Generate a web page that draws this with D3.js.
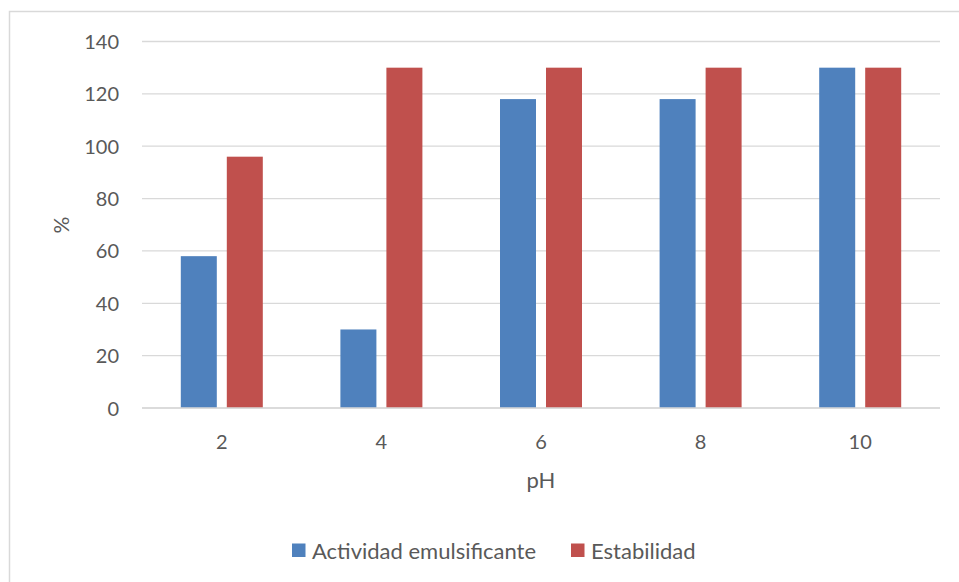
<!DOCTYPE html>
<html>
<head>
<meta charset="utf-8">
<script src="https://cdn.jsdelivr.net/npm/d3@7"></script>
<style>
  html, body { margin: 0; padding: 0; background: #fff; }
  svg { display: block; }
  text { font-family: Lato, "Open Sans", sans-serif; fill: #595959; }
</style>
</head>
<body>
<svg id="chart" width="959" height="582"></svg>
<script>
// pH levels on the x axis
const categories = ["2", "4", "6", "8", "10"];
// Series values (%)
const actividad = [58, 30, 118, 118, 130];
const estabilidad = [96, 130, 130, 130, 130];
const seriesNames = ["Actividad emulsificante", "Estabilidad"];
const seriesColors = ["#4f81bd", "#c0504d"];
const yTicks = [0, 20, 40, 60, 80, 100, 120, 140];

const series = [actividad, estabilidad];

const svg = d3.select("#chart");
const W = 959, H = 582;

// outer chart frame (only left and top edges fall inside the view)
svg.append("rect")
  .attr("x", 9.5).attr("y", 11.5)
  .attr("width", W + 10).attr("height", H + 10)
  .attr("fill", "#fff").attr("stroke", "#d9d9d9").attr("stroke-width", 1.5);

const plot = { left: 142, right: 940, top: 41.5, bottom: 408 };

const x = d3.scaleBand()
  .domain(categories)
  .range([plot.left, plot.right])
  .paddingInner(0).paddingOuter(0);

const y = d3.scaleLinear()
  .domain([0, 140])
  .range([plot.bottom, plot.top]);

// gridlines
svg.append("g")
  .selectAll("line")
  .data(yTicks)
  .join("line")
  .attr("x1", plot.left).attr("x2", plot.right)
  .attr("y1", d => y(d)).attr("y2", d => y(d))
  .attr("stroke", "#d9d9d9").attr("stroke-width", 1.3);

// y axis labels
const yAxis = d3.axisLeft(y).tickValues(yTicks).tickSize(0).tickPadding(0);
const gy = svg.append("g")
  .attr("transform", `translate(${plot.left - 23},0)`)
  .call(yAxis);
gy.select(".domain").remove();
gy.selectAll("text")
  .attr("font-size", 20)
  .attr("dy", "0.35em")
  .style("font-family", "Lato, 'Open Sans', sans-serif")
  .attr("fill", "#595959");

// bars
const barW = 36, barGap = 10;
const groupW = barW * 2 + barGap;
series.forEach((vals, si) => {
  svg.append("g")
    .selectAll("rect")
    .data(vals.map((v, i) => ({ v, c: categories[i] })))
    .join("rect")
    .attr("x", d => x(d.c) + (x.bandwidth() - groupW) / 2 + si * (barW + barGap))
    .attr("width", barW)
    .attr("y", d => y(d.v))
    .attr("height", d => y(0) - y(d.v))
    .attr("fill", seriesColors[si]);
});

// x axis line
svg.append("line")
  .attr("x1", plot.left).attr("x2", plot.right)
  .attr("y1", y(0)).attr("y2", y(0))
  .attr("stroke", "#d9d9d9").attr("stroke-width", 1.3);

// x axis labels
const xAxis = d3.axisBottom(x).tickSize(0).tickPadding(0);
const gx = svg.append("g")
  .attr("transform", `translate(0,${plot.bottom + 34})`)
  .call(xAxis);
gx.select(".domain").remove();
gx.selectAll("text")
  .attr("font-size", 20)
  .attr("dy", "0.35em")
  .style("font-family", "Lato, 'Open Sans', sans-serif")
  .attr("fill", "#595959");

// axis titles
svg.append("text")
  .attr("x", (plot.left + plot.right) / 2).attr("y", 480)
  .attr("dy", "0.35em")
  .attr("text-anchor", "middle")
  .attr("font-size", 22)
  .text("pH");

svg.append("text")
  .attr("transform", "translate(62,225) rotate(-90)")
  .attr("dy", "0.35em")
  .attr("text-anchor", "middle")
  .attr("font-size", 21)
  .text("%");

// legend
const legendItems = [
  { name: seriesNames[0], color: seriesColors[0], x: 292 },
  { name: seriesNames[1], color: seriesColors[1], x: 571 }
];
const lg = svg.append("g");
legendItems.forEach(item => {
  lg.append("rect")
    .attr("x", item.x).attr("y", 543.5)
    .attr("width", 13.5).attr("height", 13.5)
    .attr("fill", item.color);
  lg.append("text")
    .attr("x", item.x + 20).attr("y", 551)
    .attr("dy", "0.35em")
    .attr("font-size", 22)
    .text(item.name);
});
</script>
</body>
</html>
